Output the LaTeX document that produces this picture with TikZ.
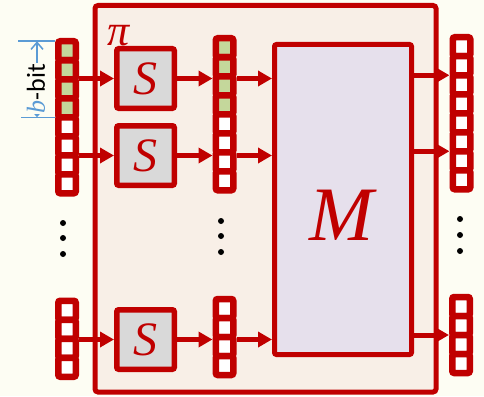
\documentclass[tikz,border=0pt]{standalone}
\usepackage{fontspec}
\setmainfont{Carlito}
\newfontfamily\symfont{Liberation Serif}
\usetikzlibrary{arrows.meta, positioning}
\definecolor{box-red}{HTML}{C00000}
\definecolor{bit-green}{HTML}{C4D79B}
\definecolor{sbox-fill}{HTML}{D9D9D9}
\definecolor{mix-fill}{HTML}{E6E0EC}
\definecolor{perm-fill}{HTML}{F8EFE7}
\definecolor{page-bg}{HTML}{FDFDF3}
\definecolor{dim-blue}{HTML}{5B9BD5}
\tikzset{
  perm-box/.style={
    draw=box-red, fill=perm-fill, line width=5pt, rounded corners=3pt,
    minimum width=341pt, minimum height=386.5pt, inner sep=0pt
  },
  sbox/.style={
    draw=box-red, fill=sbox-fill, line width=5.5pt, rounded corners=2pt,
    minimum width=57.5pt, minimum height=59.5pt, inner sep=0pt,
    text=box-red, font=\symfont\itshape\fontsize{48}{48}\selectfont
  },
  mix-box/.style={
    draw=box-red, fill=mix-fill, line width=5pt, rounded corners=2pt,
    minimum width=137pt, minimum height=310pt, inner sep=0pt
  },
  bit-cell/.style={
    draw=box-red, fill=white, line width=6.5pt, rounded corners=2pt,
    minimum width=17.5pt, minimum height=19pt, inner sep=0pt,
    outer xsep=3.25pt, outer ysep=0pt
  },
  bit-used/.style={bit-cell, fill=bit-green},
  sym-label/.style={text=box-red, inner sep=0pt},
  red-edge/.style={-{Triangle[length=14pt, width=15pt]}, draw=box-red, line width=5pt},
  dim-edge/.style={
    {Straight Barb[length=7pt, width=12pt]}-{Straight Barb[length=7pt, width=12pt]},
    draw=dim-blue, line width=1.5pt
  }
}

\begin{document}
\begin{tikzpicture}[x=1pt, y=-1pt]
  \fill[page-bg] (0,0) rectangle (484,396);
  \useasboundingbox (0,0) rectangle (484,396);

  % Permutation layer
  \node[perm-box] (perm) at (265.5,198.75) {};
  \node[sym-label, font=\symfont\itshape\fontsize{44}{44}\selectfont] (pi) at (119,36) {π};

  % S-boxes and mixing layer
  \node[sbox] (S1) at (145.5,78.5)  {S};
  \node[sbox] (S2) at (145.5,155.5) {S};
  \node[sbox] (S3) at (145.5,339.5) {S};
  \node[mix-box] (M) at (343,199.5) {};
  \node[sym-label, font=\symfont\itshape\fontsize{77}{77}\selectfont] (Mlabel) at (342,215) {M};

  % Registers (top: 8 cells, bottom: 4 cells)
  \foreach \i in {1,...,4} \node[bit-used] (inA\i) at (67,31.75+19*\i) {};
  \foreach \i in {5,...,8} \node[bit-cell] (inA\i) at (67,31.75+19*\i) {};
  \foreach \i in {1,...,4} \node[bit-used] (midA\i) at (224.5,28.75+19*\i) {};
  \foreach \i in {5,...,8} \node[bit-cell] (midA\i) at (224.5,28.75+19*\i) {};
  \foreach \i in {1,...,8} \node[bit-cell] (outA\i) at (461.5,27.75+19*\i) {};
  \foreach \i in {1,...,4} \node[bit-cell] (inB\i) at (67,291.25+19*\i) {};
  \foreach \i in {1,...,4} \node[bit-cell] (midB\i) at (224.5,289.5+19*\i) {};
  \foreach \i in {1,...,4} \node[bit-cell] (outB\i) at (461,287.5+19*\i) {};

  % Vertical dots
  \foreach \y in {223,238,254} \fill (63,\y) circle (3pt);
  \foreach \y in {221,236,252} \fill (221,\y) circle (3pt);
  \foreach \y in {219,235,251} \fill (460,\y) circle (3pt);

  % Inputs into the S-boxes
  \draw[red-edge] (inA1.east |- S1.west) -- (S1.west);
  \draw[red-edge] (inA1.east |- S2.west) -- (S2.west);
  \draw[red-edge] (inB1.east |- S3.west) -- (S3.west);

  % S-boxes to the middle registers
  \draw[red-edge] (S1.east) -- (S1.east -| midA1.west);
  \draw[red-edge] (S2.east) -- (S2.east -| midA1.west);
  \draw[red-edge] (S3.east) -- (S3.east -| midB1.west);

  % Middle registers into M
  \draw[red-edge] (midA1.east |- S1.east) -- (M.west |- S1.east);
  \draw[red-edge] (midA1.east |- S2.east) -- (M.west |- S2.east);
  \draw[red-edge] (midB1.east |- S3.east) -- (M.west |- S3.east);

  % M to the outputs
  \draw[red-edge] (M.east |- outA2.south west) -- (outA2.south west);
  \draw[red-edge] (M.east |- outA6.south west) -- (outA6.south west);
  \draw[red-edge] (M.east |- outB2.south west) -- (outB2.south west);

  % Width of one S-box input
  \draw[dim-blue, line width=1.5pt] (inA1.north west) -- ++(-37,0);
  \draw[dim-blue, line width=1.5pt] (inA4.south west) -- ++(-34,0);
  \draw[dim-edge] ([xshift=-18pt]inA1.north west) -- ([xshift=-18pt]inA4.south west);
  \node[rotate=90, fill=page-bg, inner sep=0.5pt, font=\fontsize{26}{26}\selectfont] (bitlabel) at (36,88.5)
    {\textcolor{dim-blue}{\symfont\itshape b}-bit};
\end{tikzpicture}
\end{document}
